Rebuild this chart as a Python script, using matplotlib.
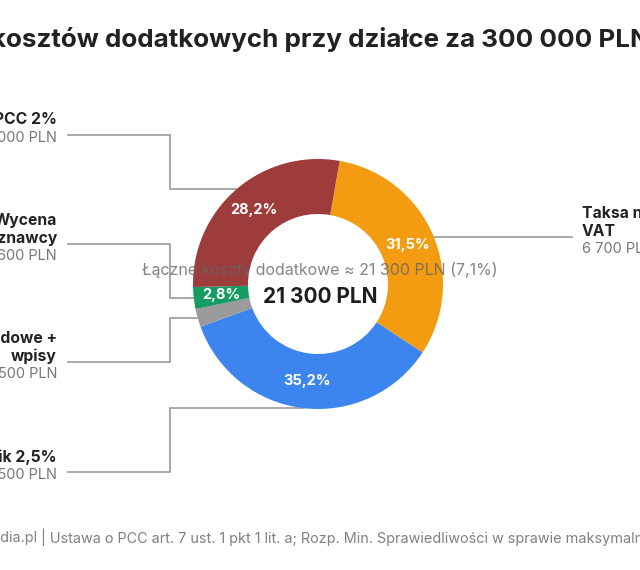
import matplotlib
matplotlib.use("Agg")
import matplotlib.pyplot as plt
import numpy as np

plt.rcParams["font.family"] = ["Inter", "DejaVu Sans"]

# slices in clockwise order, starting at the top
names = ["Taksa notarialna +\nVAT", "Pośrednik 2,5%", "Opłaty sądowe +\nwpisy",
         "Wycena\nrzeczoznawcy", "Podatek PCC 2%"]
values = [6700, 7500, 500, 600, 6000]
value_labels = ["6 700 PLN", "7 500 PLN", "500 PLN", "600 PLN", "6 000 PLN"]
colors = ["#f39c12", "#3d85ee", "#9b9b9b", "#169b62", "#9e3b3b"]
total_label = "21 300 PLN"
subtitle = "Łączne koszty dodatkowe ≈ 21 300 PLN (7,1%)"
title = "Struktura kosztów dodatkowych przy działce za 300 000 PLN"
source_a = "Źródło: opracowanie własne, media.pl"
source_b = ("| Ustawa o PCC art. 7 ust. 1 pkt 1 lit. a; Rozp. Min. Sprawiedliwości "
            "w sprawie maksymalnych stawek taksy notarialnej")

W, H = 640, 570
CX, CY, R, RING = 318, 284, 125, 55
LINE_C = "#9a9a9a"
NAME_C = "#222222"
VAL_C = "#777777"

fig = plt.figure(figsize=(W / 100, H / 100), dpi=100)
ax = fig.add_axes([0, 0, 1, 1])

wedges, autotexts = ax.pie(
    values, colors=colors, center=(CX, CY), radius=R,
    startangle=-80, counterclock=True,
    wedgeprops=dict(width=RING, linewidth=0),
    autopct=lambda p: f"{p:.1f}%".replace(".", ",") if p > 2.5 else "",
    pctdistance=(R - RING / 2) / R,
    textprops=dict(color="white", fontsize=10.5, fontweight="bold"),
)[0::2]

ax.set_xlim(0, W)
ax.set_ylim(H, 0)
ax.set_aspect("equal")
ax.axis("off")

# label rows: (side, y of the label's leader line)
label_rows = {0: ("right", 237), 1: ("left", 472), 2: ("left", 362),
              3: ("left", 244), 4: ("left", 135)}
ELBOW_X = 170
LINE_SP = 18

for i, w in enumerate(wedges):
    mid = np.deg2rad((w.theta1 + w.theta2) / 2)
    wx, wy = CX + R * np.cos(mid), CY + R * np.sin(mid)
    side, ly = label_rows[i]
    if side == "left":
        ax.plot([68, ELBOW_X, ELBOW_X, wx], [ly, ly, wy, wy],
                color=LINE_C, lw=1.2, zorder=0.5, solid_joinstyle="miter")
        tx, ha = 57, "right"
    else:
        ax.plot([wx, 572], [ly, ly], color=LINE_C, lw=1.2, zorder=0.5)
        tx, ha = 582, "left"
    lines = names[i].split("\n")
    n = len(lines) + 1
    c = ly - 6
    for k, txt in enumerate(lines):
        ax.text(tx, c + (k - (n - 1) / 2) * LINE_SP, txt, ha=ha, va="center",
                fontsize=11.3, fontweight="bold", color=NAME_C)
    ax.text(tx, c + (n - 1 - (n - 1) / 2) * LINE_SP, value_labels[i], ha=ha,
            va="center", fontsize=10.5, color=VAL_C)

ax.text(CX + 2, 270, subtitle, ha="center", va="center", fontsize=11.5,
        color="#666666", alpha=0.8, zorder=5)
ax.text(CX + 2, 297, total_label, ha="center", va="center", fontsize=15,
        fontweight="bold", color="#1e1e1e", zorder=5)

ax.text(650, 40, title, ha="right", va="center", fontsize=18.7,
        fontweight="bold", color="#222222")

ax.text(37, 537, source_a, ha="right", va="center", fontsize=10.4, color="#808080")
ax.text(41, 537, source_b, ha="left", va="center", fontsize=10.4, color="#808080")

fig.savefig("out.png", dpi=100, facecolor="white")
